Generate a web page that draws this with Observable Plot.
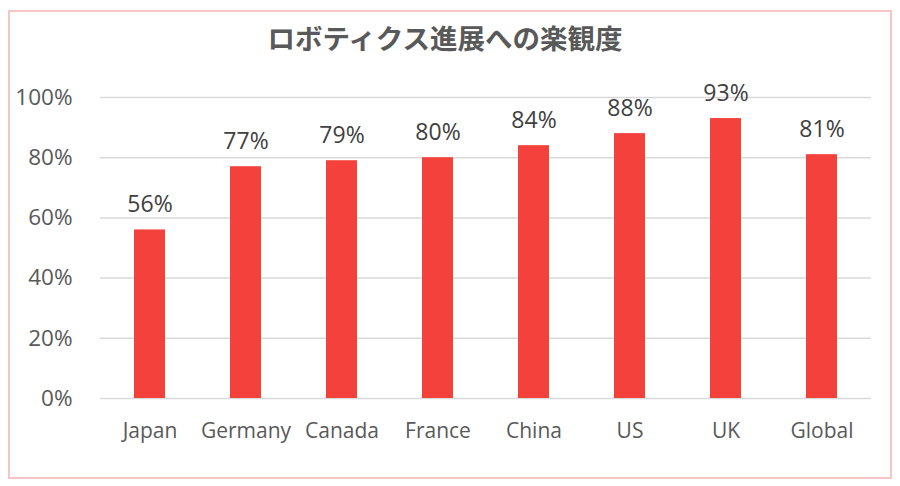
<!DOCTYPE html>
<html>
<head>
<meta charset="utf-8">
<script src="https://cdn.jsdelivr.net/npm/d3@7"></script>
<script src="https://cdn.jsdelivr.net/npm/@observablehq/plot@0.6"></script>
<style>
  body { margin: 0; background: #fff; width: 900px; height: 486px; position: relative; overflow: hidden; }
  #frame { position: absolute; left: 8px; top: 10px; width: 880px; height: 465px; border: 2px solid #f6c6c6; box-sizing: content-box; pointer-events: none; }
  #title { position: absolute; left: 0; top: 0; width: 890px; height: 60px; text-align: center; font-family: "Noto Sans CJK JP", "Noto Sans", sans-serif; font-weight: 700; font-size: 27.5px; line-height: 74px; color: #595959; }
  #chart { position: absolute; left: 0; top: 60px; }
</style>
</head>
<body>
<div id="title">ロボティクス進展への楽観度</div>
<div id="chart"></div>
<div id="frame"></div>
<script>
const categories = ["Japan", "Germany", "Canada", "France", "China", "US", "UK", "Global"];
const values = [0.56, 0.77, 0.79, 0.80, 0.84, 0.88, 0.93, 0.81];
const yTicks = [0, 0.2, 0.4, 0.6, 0.8, 1.0];

const data = categories.map((c, i) => ({category: c, value: values[i]}));
const pct = d3.format(".0%");

const chart = Plot.plot({
  width: 900,
  height: 426,
  marginTop: 37,
  marginBottom: 88,
  marginLeft: 100,
  marginRight: 29,
  style: {fontFamily: "'Open Sans', 'Noto Sans', sans-serif", color: "#595959", background: "transparent"},
  x: {domain: categories, paddingInner: 0.68, paddingOuter: 0.34, label: null},
  y: {domain: [0, 1], label: null},
  marks: [
    Plot.ruleY(yTicks, {stroke: "#d9d9d9", strokeWidth: 1.5}),
    Plot.barY(data, {x: "category", y: "value", fill: "#f5413b"}),
    Plot.text(data, {x: "category", y: "value", text: d => pct(d.value), lineAnchor: "bottom", dy: -18, fontSize: 23, fill: "#404040"}),
    Plot.axisX({tickSize: 0, tickPadding: 25, fontSize: 21, fill: "#595959"}),
    Plot.axisY({ticks: yTicks, tickFormat: pct, tickSize: 0, tickPadding: 28, fontSize: 22.5, fill: "#595959"})
  ]
});
document.getElementById("chart").appendChild(chart);
</script>
</body>
</html>
